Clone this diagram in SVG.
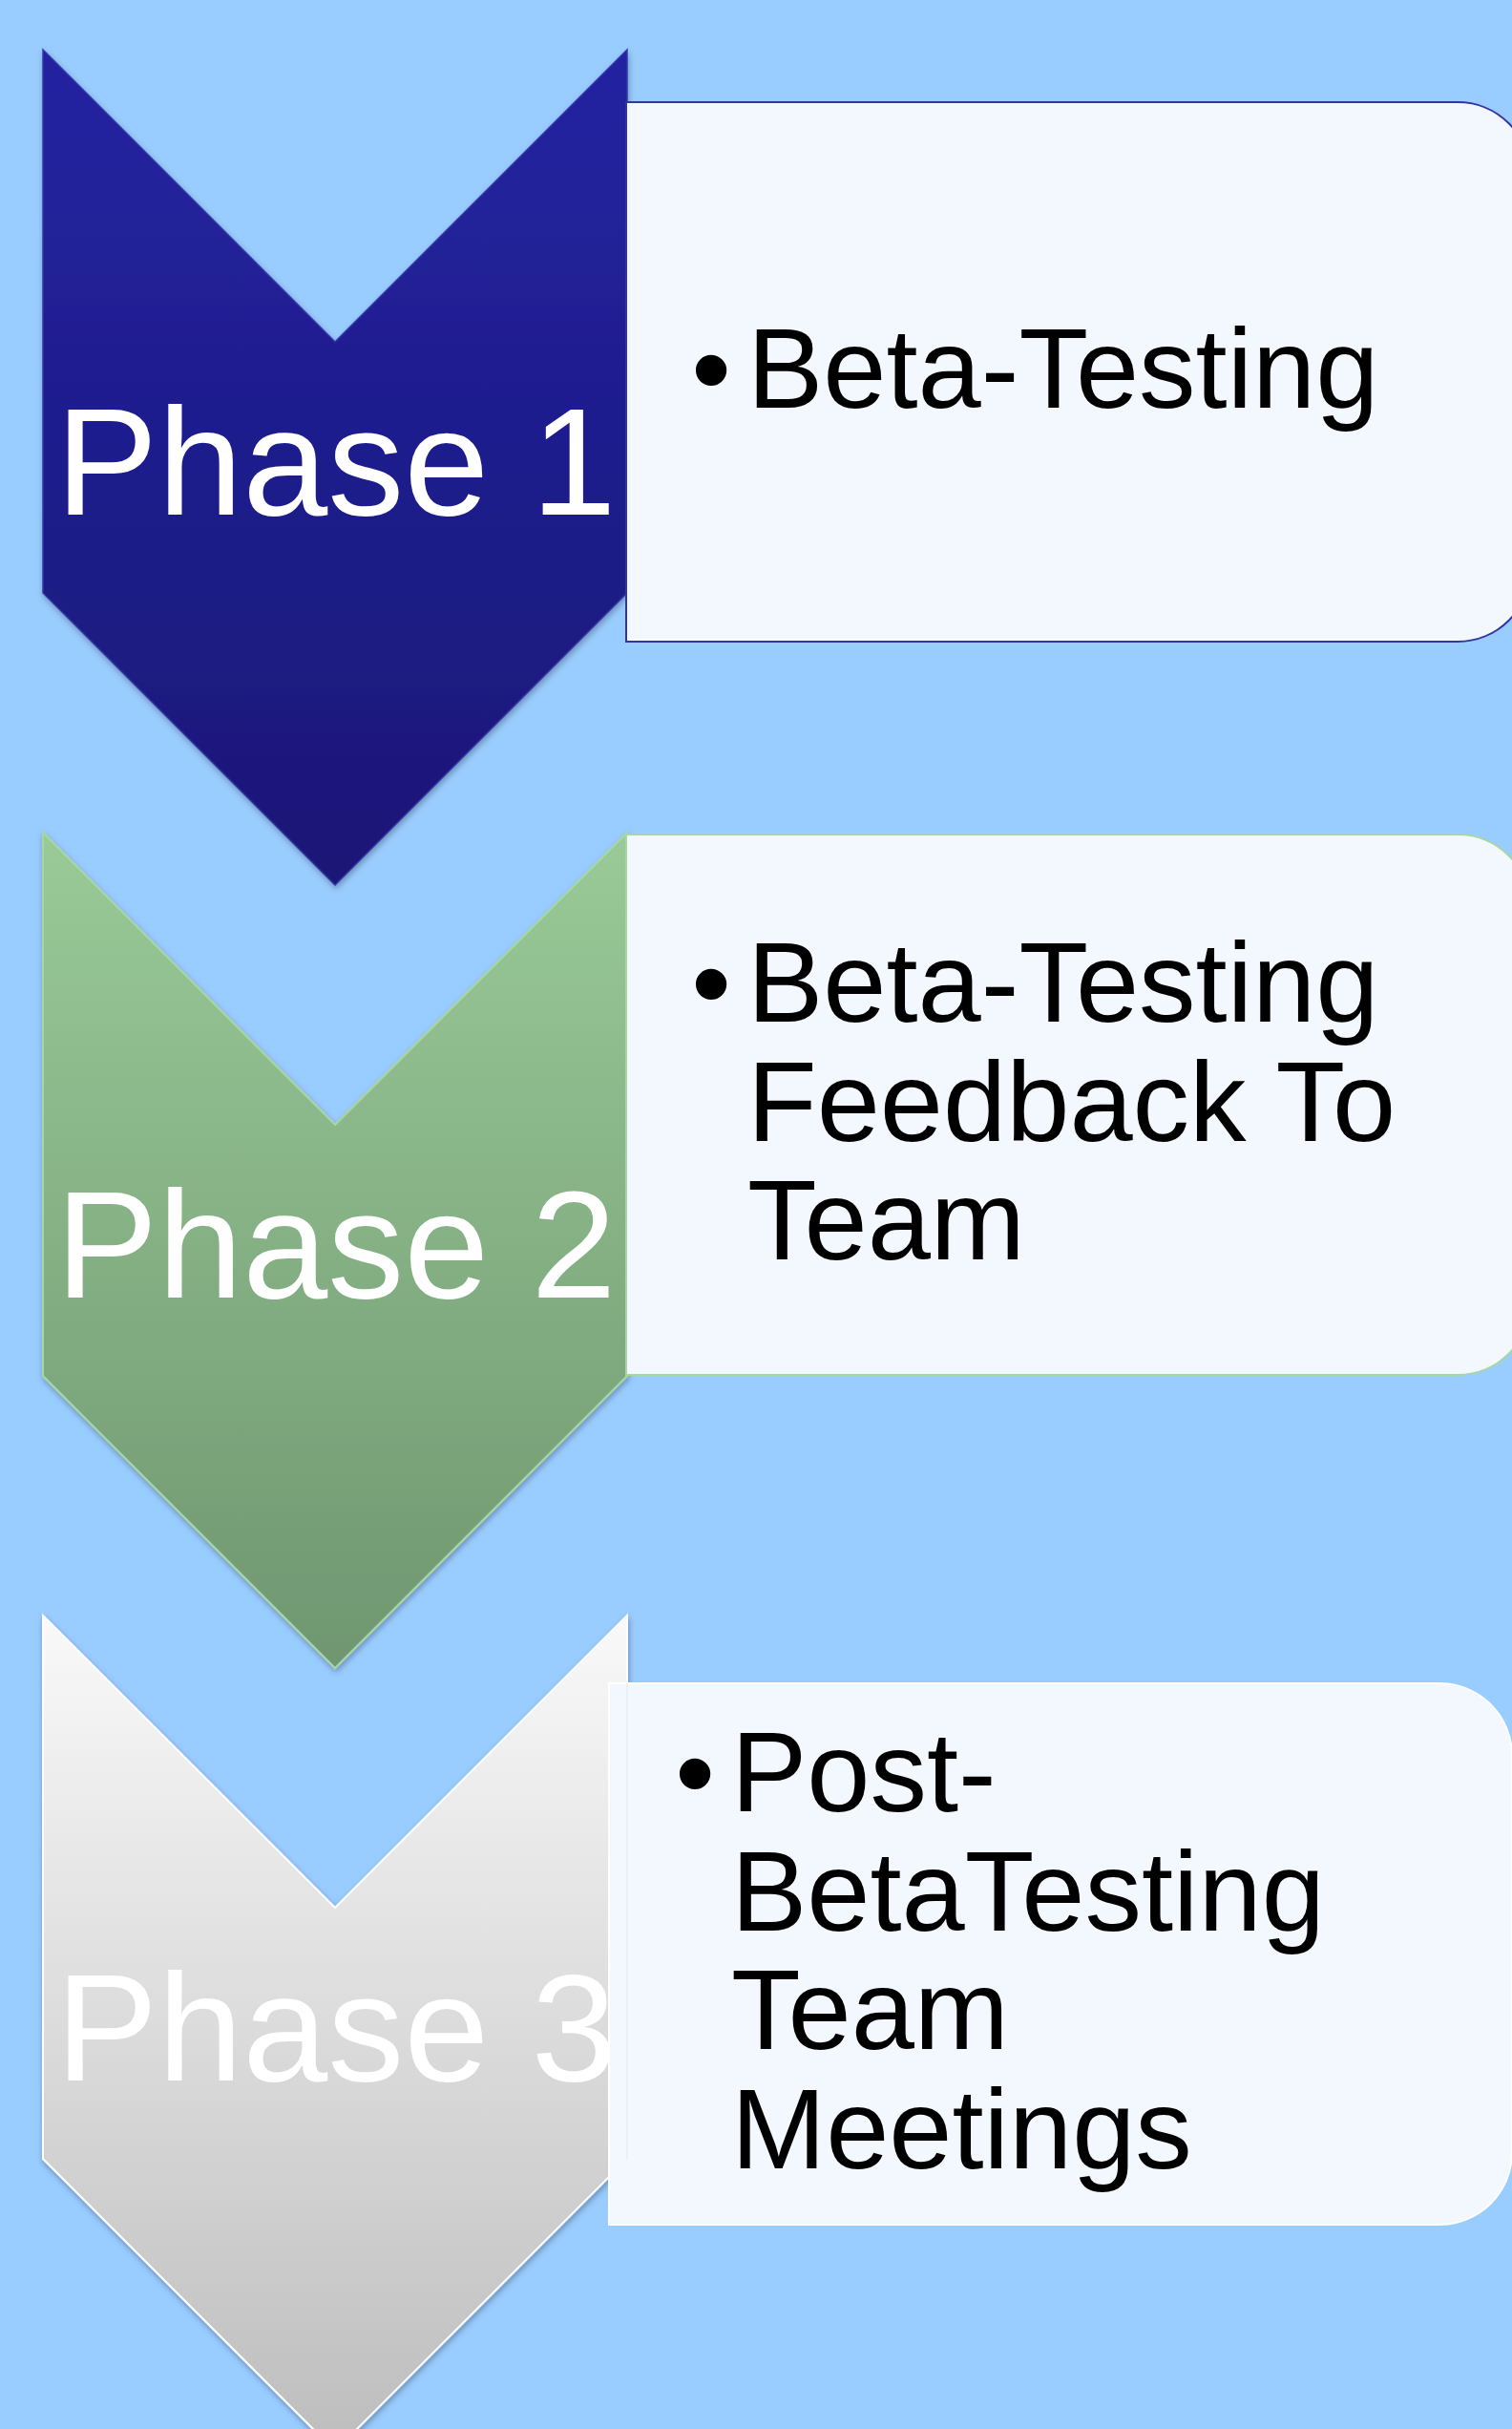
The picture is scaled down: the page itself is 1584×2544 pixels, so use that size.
<svg xmlns="http://www.w3.org/2000/svg" width="1584" height="2544" viewBox="0 0 1584 2544">
  <defs>
    <linearGradient id="gBlue" x1="0" y1="0" x2="0" y2="1">
      <stop offset="0" stop-color="#2323a2"/>
      <stop offset="1" stop-color="#1a1776"/>
    </linearGradient>
    <linearGradient id="gGreen" x1="0" y1="0" x2="0" y2="1">
      <stop offset="0" stop-color="#9aca98"/>
      <stop offset="1" stop-color="#6f9670"/>
    </linearGradient>
    <linearGradient id="gGrey" x1="0" y1="0" x2="0" y2="1">
      <stop offset="0" stop-color="#f9f9f9"/>
      <stop offset="1" stop-color="#bdbdbd"/>
    </linearGradient>
    <filter id="shadow" x="-10%" y="-10%" width="120%" height="120%">
      <feDropShadow dx="1" dy="3" stdDeviation="3" flood-color="#000" flood-opacity="0.3"/>
    </filter>
  </defs>
  <style>
    .phase { font-family: "Liberation Sans", Arial, sans-serif; font-size: 160px; fill: #ffffff; text-anchor: middle; }
    .item { font-family: "Liberation Sans", Arial, sans-serif; font-size: 119px; fill: #000000; }
    .bullet { font-family: "Liberation Sans", Arial, sans-serif; font-size: 119px; fill: #000000; text-anchor: middle; }
    .card { fill: #f3f8fe; stroke-width: 2; }
  </style>

  <!-- page background -->
  <rect x="0" y="0" width="1584" height="2544" fill="#99ccff"/>

  <!-- step 1 -->
  <g id="phase1">
    <polygon points="45,52 351,358 657,52 657,621 351,927 45,621" fill="url(#gBlue)" stroke="#3535aa" stroke-width="1.5" filter="url(#shadow)"/>
    <text class="phase" x="352" y="539">Phase 1</text>
  </g>
  <g id="card1">
    <path class="card" d="M656,107 H1527 A76,76 0 0 1 1603,183 V596 A76,76 0 0 1 1527,672 H656 Z" stroke="#3333a6"/>
    <text class="bullet" x="745" y="427">•</text>
    <text class="item" x="783" y="427">Beta-Testing</text>
  </g>

  <!-- step 2 -->
  <g id="phase2">
    <polygon points="45,872 351,1178 657,872 657,1441 351,1747 45,1441" fill="url(#gGreen)" stroke="#a8d6a2" stroke-width="2" filter="url(#shadow)"/>
    <text class="phase" x="352" y="1359">Phase 2</text>
  </g>
  <g id="card2">
    <path class="card" d="M656,874 H1527 A76,76 0 0 1 1603,950 V1364 A76,76 0 0 1 1527,1440 H656 Z" stroke="#a8d6a2"/>
    <text class="bullet" x="745" y="1070">•</text>
    <text class="item" x="783" y="1070">Beta-Testing</text>
    <text class="item" x="783" y="1194.5">Feedback To</text>
    <text class="item" x="783" y="1319">Team</text>
  </g>

  <!-- step 3 -->
  <g id="phase3">
    <polygon points="45,1692 351,1998 657,1692 657,2261 351,2567 45,2261" fill="url(#gGrey)" stroke="#ffffff" stroke-width="2" filter="url(#shadow)"/>
    <text class="phase" x="352" y="2179">Phase 3</text>
  </g>
  <g id="card3">
    <path class="card" d="M638,1763 H1508 A76,76 0 0 1 1584,1839 V2254 A76,76 0 0 1 1508,2330 H638 Z" stroke="#ffffff"/>
    <!-- faint trace of the chevron edge beneath the card -->
    <line x1="657" y1="1763" x2="657" y2="2261" stroke="#e4e8ee" stroke-width="1"/>
    <text class="bullet" x="728" y="1897">•</text>
    <text class="item" x="766" y="1897">Post-</text>
    <text class="item" x="766" y="2022">BetaTesting</text>
    <text class="item" x="766" y="2146">Team</text>
    <text class="item" x="766" y="2270.5">Meetings</text>
  </g>

  <!-- the chevrons stack directly; there are no separate connector lines -->
  <g id="connectors"/>
</svg>
